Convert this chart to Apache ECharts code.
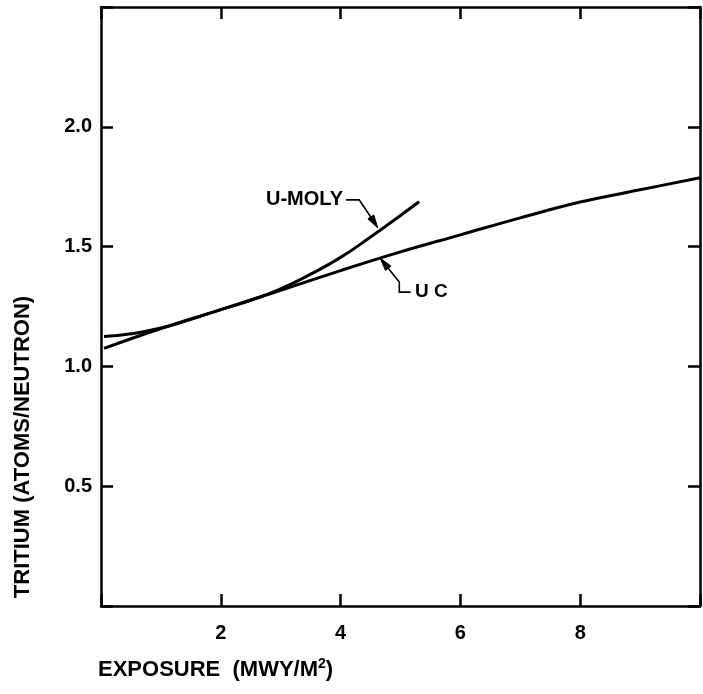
<!DOCTYPE html>
<html>
<head>
<meta charset="utf-8">
<script src="https://cdn.jsdelivr.net/npm/echarts@6/dist/echarts.min.js"></script>
<style>
  html, body { margin: 0; padding: 0; background: #fff; }
  #chart { width: 703px; height: 694px; }
</style>
</head>
<body>
<div id="chart"></div>
<script>
// Tritium production vs. exposure for two fuel forms
const exposureUC = [0.05, 1, 2, 3, 4, 5, 6, 7, 8, 9, 10];
const tritiumUC = [1.075, 1.158, 1.237, 1.318, 1.400, 1.478, 1.549, 1.620, 1.686, 1.737, 1.787];

const exposureUMoly = [0.05, 0.5, 1, 1.5, 2, 2.5, 3, 3.5, 4, 4.5, 5, 5.31];
const tritiumUMoly = [1.125, 1.136, 1.160, 1.196, 1.237, 1.276, 1.324, 1.385, 1.455, 1.540, 1.630, 1.687];

const xTickValues = [2, 4, 6, 8];
const yTickValues = [0.5, 1.0, 1.5, 2.0];

// Curve labels with their leader lines (data units); the last point is the arrow tip
const labelNames = ['U-MOLY', 'U C'];
const labelAnchors = [[4.09, 1.695], [5.19, 1.310]];
const leaderPaths = [
  [[4.09, 1.695], [4.31, 1.695], [4.535, 1.612], [4.62, 1.578]],
  [[5.17, 1.310], [4.98, 1.310], [4.98, 1.352], [4.66, 1.452]]
];

const FONT = '"Liberation Sans", Arial, sans-serif';
const INK = '#000';

const toPairs = (xs, ys) => xs.map((x, i) => [x, ys[i]]);

const chart = echarts.init(document.getElementById('chart'));

const hiddenLabels = { show: false };
const innerTicks = { show: true, inside: true, length: 12, lineStyle: { color: INK, width: 2.5 } };
const frameLine = { show: true, onZero: false, lineStyle: { color: INK, width: 2.5 } };

chart.setOption({
  animation: false,
  backgroundColor: '#fff',
  grid: { left: 101, right: 1.5, top: 7, bottom: 88 },
  xAxis: [
    {
      type: 'value', min: 0, max: 10, interval: 2, position: 'bottom',
      axisLine: frameLine, axisTick: innerTicks, splitLine: { show: false },
      axisLabel: {
        margin: 17, color: INK, fontFamily: FONT, fontWeight: 'bold', fontSize: 20,
        formatter: v => (xTickValues.includes(v) ? String(v) : '')
      }
    },
    {
      type: 'value', min: 0, max: 10, interval: 2, position: 'top',
      axisLine: frameLine, axisTick: innerTicks, splitLine: { show: false },
      axisLabel: hiddenLabels
    }
  ],
  yAxis: [
    {
      type: 'value', min: 0, max: 2.5, interval: 0.5, position: 'left',
      axisLine: frameLine, axisTick: innerTicks, splitLine: { show: false },
      axisLabel: {
        margin: 9, color: INK, fontFamily: FONT, fontWeight: 'bold', fontSize: 20,
        formatter: v => (yTickValues.some(t => Math.abs(t - v) < 1e-9) ? v.toFixed(1) : '')
      }
    },
    {
      type: 'value', min: 0, max: 2.5, interval: 0.5, position: 'right',
      axisLine: frameLine, axisTick: innerTicks, splitLine: { show: false },
      axisLabel: hiddenLabels
    }
  ],
  graphic: [
    {
      type: 'text', x: 23, y: 447, rotation: Math.PI / 2,
      style: {
        text: 'TRITIUM (ATOMS/NEUTRON)', fill: INK,
        font: 'bold 22px ' + FONT, textAlign: 'center', textVerticalAlign: 'middle'
      }
    },
    {
      type: 'text', x: 98, y: 669,
      style: {
        text: '{a|EXPOSURE  (MWY/M}{s|2}{a|)}',
        textVerticalAlign: 'middle', textAlign: 'left',
        rich: {
          a: { fontFamily: FONT, fontWeight: 'bold', fontSize: 22, color: INK, lineHeight: 24, verticalAlign: 'bottom' },
          s: { fontFamily: FONT, fontWeight: 'bold', fontSize: 14, color: INK, lineHeight: 24, verticalAlign: 'top' }
        }
      }
    }
  ],
  series: [
    {
      name: 'U C', type: 'line', smooth: 0.4, showSymbol: false,
      xAxisIndex: 0, yAxisIndex: 0,
      lineStyle: { color: INK, width: 3 },
      data: toPairs(exposureUC, tritiumUC)
    },
    {
      name: 'U-MOLY', type: 'line', smooth: 0.5, showSymbol: false,
      xAxisIndex: 0, yAxisIndex: 0,
      lineStyle: { color: INK, width: 3 },
      data: toPairs(exposureUMoly, tritiumUMoly)
    },
    {
      // curve labels with leader arrows
      type: 'custom', xAxisIndex: 0, yAxisIndex: 0, silent: true,
      data: labelNames.map((n, i) => [labelAnchors[i][0], labelAnchors[i][1], i]),
      renderItem: (params, api) => {
        const i = api.value(2);
        const pts = leaderPaths[i].map(p => api.coord(p));
        const tip = pts[pts.length - 1];
        const prev = pts[pts.length - 2];
        const dx = tip[0] - prev[0], dy = tip[1] - prev[1];
        const len = Math.hypot(dx, dy) || 1;
        const ux = dx / len, uy = dy / len;
        const headLen = 13, headHalf = 3.5;
        const bx = tip[0] - ux * headLen, by = tip[1] - uy * headLen;
        const anchor = api.coord(labelAnchors[i]);
        const isLeft = i === 0;
        return {
          type: 'group',
          children: [
            {
              type: 'polyline',
              shape: { points: pts.slice(0, -1).concat([[bx + ux * 2, by + uy * 2]]) },
              style: { stroke: INK, lineWidth: 1.6, fill: null }
            },
            {
              type: 'polygon',
              shape: { points: [tip, [bx - uy * headHalf, by + ux * headHalf], [bx + uy * headHalf, by - ux * headHalf]] },
              style: { fill: INK, stroke: INK, lineWidth: 1 }
            },
            {
              type: 'text',
              x: anchor[0] + (isLeft ? -3 : 3), y: anchor[1],
              style: {
                text: labelNames[i], fill: INK,
                font: 'bold ' + (isLeft ? 20 : 19) + 'px ' + FONT,
                textAlign: isLeft ? 'right' : 'left', textVerticalAlign: 'middle'
              }
            }
          ]
        };
      }
    }
  ]
});
</script>
</body>
</html>
